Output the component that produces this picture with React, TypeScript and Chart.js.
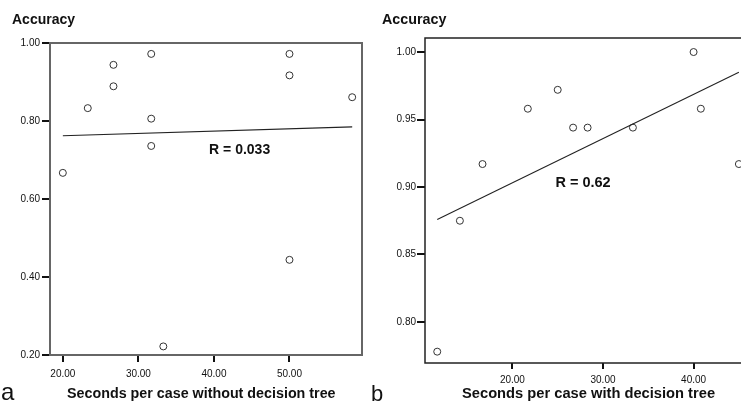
import React, { useEffect, useRef } from "react";
import { Chart, registerables } from "chart.js";

Chart.register(...registerables);

// Panel a: without decision tree
const leftX = [20, 23.3, 26.7, 26.7, 31.7, 31.7, 31.7, 33.3, 50, 50, 50, 58.3];
const leftY = [0.667, 0.833, 0.889, 0.944, 0.972, 0.806, 0.736, 0.222, 0.972, 0.917, 0.444, 0.861];
const leftFitX = [20, 58.3];
const leftFitY = [0.762, 0.785];
const leftXTicks = [20, 30, 40, 50];
const leftYTicks = [0.2, 0.4, 0.6, 0.8, 1.0];

// Panel b: with decision tree
const rightX = [11.7, 14.2, 16.7, 21.7, 25, 26.7, 28.3, 33.3, 40, 40.8, 45];
const rightY = [0.778, 0.875, 0.917, 0.958, 0.972, 0.944, 0.944, 0.944, 1.0, 0.958, 0.917];
const rightFitX = [11.7, 45];
const rightFitY = [0.876, 0.985];
const rightXTicks = [20, 30, 40];
const rightYTicks = [0.8, 0.85, 0.9, 0.95, 1.0];

const FONT = "'Liberation Sans', Arial, sans-serif";

type PanelProps = {
  left: number;
  width: number;
  height: number;
  padTop: number;
  padRight: number;
  yWidth: number;
  xHeight: number;
  xMin: number;
  xMax: number;
  yMin: number;
  yMax: number;
  xs: number[];
  ys: number[];
  fitX: number[];
  fitY: number[];
  xTicks: number[];
  yTicks: number[];
  label: string;
  labelX: number;
  labelY: number;
  labelSize: number;
  boxColor: string;
  boxWidth: number;
  xTickLen: number;
  xTickPad: number;
  yTickLen: number;
  yTickPad: number;
};

function Panel(p: PanelProps) {
  const ref = useRef<HTMLCanvasElement>(null);
  useEffect(() => {
    const boxPlugin = {
      id: "boxAndLabel",
      afterDraw(chart: any) {
        const { ctx, chartArea } = chart;
        ctx.save();
        ctx.strokeStyle = p.boxColor;
        ctx.lineWidth = p.boxWidth;
        ctx.strokeRect(
          chartArea.left,
          chartArea.top,
          chartArea.right - chartArea.left,
          chartArea.bottom - chartArea.top
        );
        const x = chart.scales.x.getPixelForValue(p.labelX);
        const y = chart.scales.y.getPixelForValue(p.labelY);
        ctx.fillStyle = "#111";
        ctx.font = `bold ${p.labelSize}px ${FONT}`;
        ctx.textAlign = "center";
        ctx.textBaseline = "middle";
        ctx.fillText(p.label, x, y);
        ctx.restore();
      },
    };
    const chart = new Chart(ref.current as HTMLCanvasElement, {
      type: "scatter",
      data: {
        datasets: [
          {
            type: "line",
            data: p.fitX.map((x, i) => ({ x, y: p.fitY[i] })),
            borderColor: "#222",
            borderWidth: 1.1,
            pointRadius: 0,
            fill: false,
          } as any,
          {
            type: "scatter",
            data: p.xs.map((x, i) => ({ x, y: p.ys[i] })),
            pointStyle: "circle",
            pointRadius: 3.5,
            borderWidth: 1,
            borderColor: "#333",
            backgroundColor: "#fff",
          },
        ],
      },
      options: {
        responsive: false,
        animation: false,
        events: [],
        layout: { padding: { top: p.padTop, right: p.padRight, left: 0, bottom: 0 } },
        plugins: { legend: { display: false }, tooltip: { enabled: false }, title: { display: false } },
        scales: {
          x: {
            type: "linear",
            min: p.xMin,
            max: p.xMax,
            afterBuildTicks: (s: any) => {
              s.ticks = p.xTicks.map((v) => ({ value: v }));
            },
            afterFit: (s: any) => {
              s.height = p.xHeight;
            },
            border: { display: false },
            grid: {
              display: true,
              drawOnChartArea: false,
              drawTicks: true,
              tickLength: p.xTickLen,
              color: "#111",
              lineWidth: 2,
            },
            ticks: {
              autoSkip: false,
              maxRotation: 0,
              padding: p.xTickPad,
              color: "#111",
              font: { family: FONT, size: 10 },
              callback: (v: any) => Number(v).toFixed(2),
            },
          },
          y: {
            type: "linear",
            min: p.yMin,
            max: p.yMax,
            afterBuildTicks: (s: any) => {
              s.ticks = p.yTicks.map((v) => ({ value: v }));
            },
            afterFit: (s: any) => {
              s.width = p.yWidth;
            },
            border: { display: false },
            grid: {
              display: true,
              drawOnChartArea: false,
              drawTicks: true,
              tickLength: p.yTickLen,
              color: "#111",
              lineWidth: 2,
            },
            ticks: {
              autoSkip: false,
              padding: p.yTickPad,
              color: "#111",
              font: { family: FONT, size: 10 },
              callback: (v: any) => Number(v).toFixed(2),
            },
          },
        },
      },
      plugins: [boxPlugin],
    } as any);
    return () => chart.destroy();
  }, []);
  return (
    <canvas
      ref={ref}
      width={p.width}
      height={p.height}
      style={{ position: "absolute", left: p.left, top: 0, width: p.width, height: p.height }}
    />
  );
}

const textBase: React.CSSProperties = {
  position: "absolute",
  fontFamily: FONT,
  color: "#111",
  whiteSpace: "nowrap",
  lineHeight: 1,
};

export default function App() {
  return (
    <div
      style={{
        position: "fixed",
        left: 0,
        top: 0,
        width: 741,
        height: 402,
        overflow: "hidden",
        background: "#fff",
      }}
    >
      <Panel
        left={0}
        width={370}
        height={402}
        padTop={43}
        padRight={8}
        yWidth={50}
        xHeight={47}
        xMin={18.3}
        xMax={59.6}
        yMin={0.2}
        yMax={1.0}
        xs={leftX}
        ys={leftY}
        fitX={leftFitX}
        fitY={leftFitY}
        xTicks={leftXTicks}
        yTicks={leftYTicks}
        label="R = 0.033"
        labelX={43.4}
        labelY={0.726}
        labelSize={14}
        boxColor="#666"
        boxWidth={2}
        xTickLen={7}
        xTickPad={6}
        yTickLen={8}
        yTickPad={2}
      />
      <Panel
        left={370}
        width={400}
        height={402}
        padTop={38}
        padRight={13}
        yWidth={55}
        xHeight={39}
        xMin={10.35}
        xMax={47}
        yMin={0.7696}
        yMax={1.0104}
        xs={rightX}
        ys={rightY}
        fitX={rightFitX}
        fitY={rightFitY}
        xTicks={rightXTicks}
        yTicks={rightYTicks}
        label="R = 0.62"
        labelX={27.8}
        labelY={0.903}
        labelSize={14.5}
        boxColor="#222"
        boxWidth={1.5}
        xTickLen={6}
        xTickPad={5}
        yTickLen={8}
        yTickPad={1}
      />
      <div style={{ ...textBase, left: 12, top: 12, fontSize: 14, fontWeight: "bold" }}>Accuracy</div>
      <div style={{ ...textBase, left: 382, top: 12, fontSize: 14.3, fontWeight: "bold" }}>Accuracy</div>
      <div style={{ ...textBase, left: 67, top: 386, fontSize: 14.3, fontWeight: "bold" }}>
        Seconds per case without decision tree
      </div>
      <div style={{ ...textBase, left: 462, top: 386, fontSize: 14.7, fontWeight: "bold" }}>
        Seconds per case with decision tree
      </div>
      <div style={{ ...textBase, left: 1, top: 380, fontSize: 24 }}>a</div>
      <div style={{ ...textBase, left: 371, top: 383, fontSize: 22 }}>b</div>
    </div>
  );
}
